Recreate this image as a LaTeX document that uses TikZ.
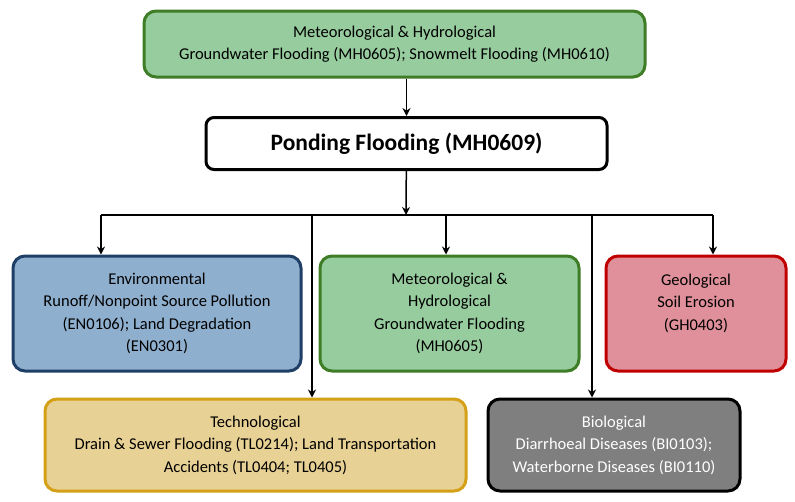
\documentclass[tikz,border=0pt]{standalone}
\usepackage{fontspec}
\setmainfont{Carlito}
\usetikzlibrary{arrows.meta,positioning}
\definecolor{metfill}{HTML}{97CC9E}
\definecolor{metline}{HTML}{3E7D26}
\definecolor{envfill}{HTML}{8FAFCF}
\definecolor{envline}{HTML}{1F3F66}
\definecolor{geofill}{HTML}{E0909A}
\definecolor{geoline}{HTML}{C00000}
\definecolor{tecfill}{HTML}{E8D194}
\definecolor{tecline}{HTML}{D4A017}
\definecolor{biofill}{HTML}{7F7F7F}
\tikzset{
  hazard/.style={draw, line width=3pt, rounded corners=12pt, align=center,
    font=\fontsize{16.5}{22.5}\selectfont, inner sep=0pt},
  link/.style={line width=1.5pt, -{Stealth[length=8pt,width=8pt]}}
}
\begin{document}
\begin{tikzpicture}[x=1pt, y=-1pt]
  \useasboundingbox (0,0) rectangle (795,501);

  \node[hazard, fill=metfill, draw=metline, minimum width=501, minimum height=66] (met) at (394.5,44)
    {Meteorological \& Hydrological\\Groundwater Flooding (MH0605); Snowmelt Flooding (MH0610)};
  \node[hazard, fill=white, draw=black, minimum width=401, minimum height=52, rounded corners=8pt,
    font=\fontsize{23.5}{28}\selectfont\bfseries] (pond) at (406.5,143.5) {Ponding Flooding (MH0609)};

  \node[hazard, fill=envfill, draw=envline, minimum width=288, minimum height=115] (env) at (157,313.5)
    {Environmental\\Runoff/Nonpoint Source Pollution\\(EN0106); Land Degradation\\(EN0301)};
  \node[hazard, fill=metfill, draw=metline, minimum width=259, minimum height=115] (hyd) at (449.5,313.5)
    {Meteorological \&\\Hydrological\\Groundwater Flooding\\(MH0605)};
  \node[hazard, fill=geofill, draw=geoline, minimum width=180, minimum height=115] (geo) at (696,313.5)
    {Geological\\Soil Erosion\\(GH0403)\\~};
  \node[hazard, fill=tecfill, draw=tecline, minimum width=421, minimum height=92] (tec) at (255.5,445)
    {Technological\\Drain \& Sewer Flooding (TL0214); Land Transportation\\Accidents (TL0404; TL0405)};
  \node[hazard, fill=biofill, draw=black, text=white, minimum width=252, minimum height=92] (bio) at (614,445)
    {Biological\\Diarrhoeal Diseases (BI0103);\\Waterborne Diseases (BI0110)};

  % distribution bus
  \coordinate (bus) at (406,215);
  \coordinate (busl) at (101,215);
  \coordinate (busr) at (713,215);
  \coordinate (bush) at (446,215);
  \coordinate (bust) at (312,215);
  \coordinate (busb) at (592,215);

  \draw[link] (met.south -| pond) -- (pond);
  \draw[link] (pond) -- (bus);
  \draw[line width=1.5pt] (busl) -- (busr);
  \draw[link] (busl) -- (busl |- env.north);
  \draw[link] (bush) -- (bush |- hyd.north);
  \draw[link] (busr) -- (busr |- geo.north);
  \draw[link] (bust) -- (bust |- tec.north);
  \draw[link] (busb) -- (busb |- bio.north);
\end{tikzpicture}
\end{document}
